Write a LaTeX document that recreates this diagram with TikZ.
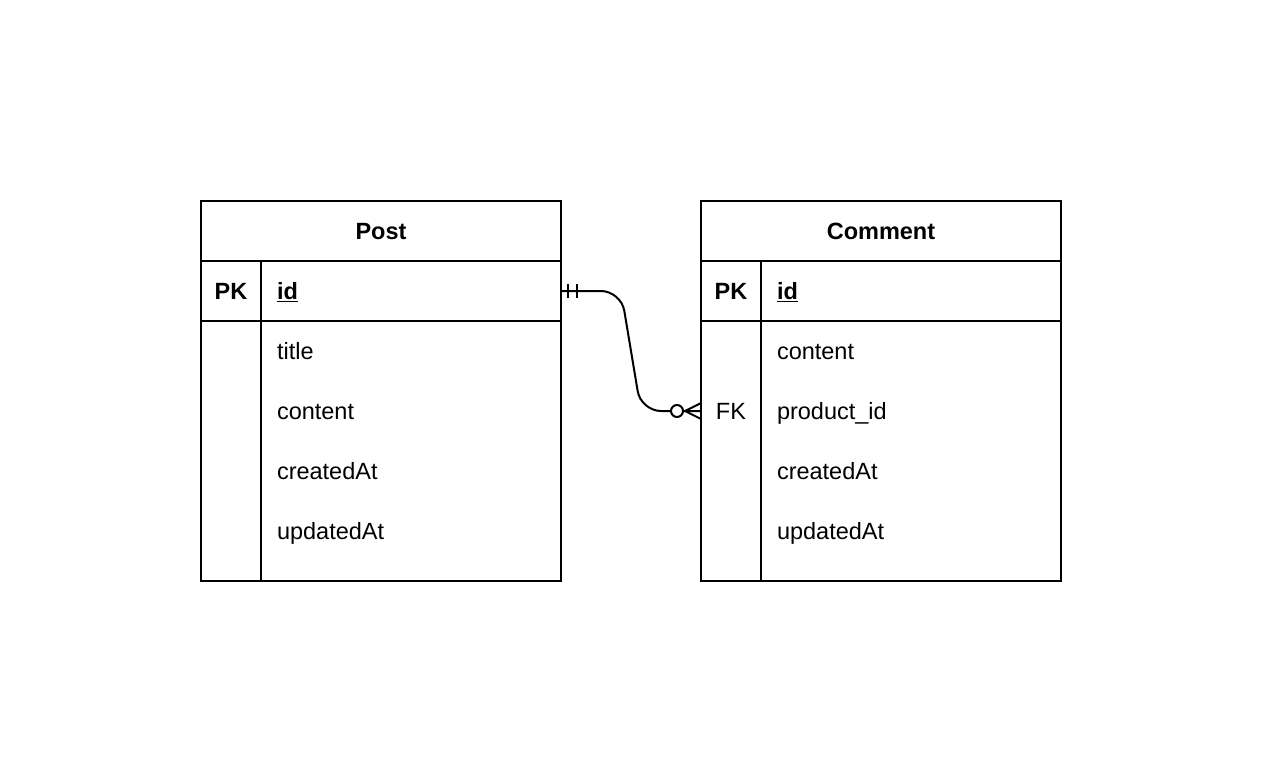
\documentclass[tikz,border=0pt]{standalone}
\usepackage{fontspec}
\setmainfont{Liberation Sans}
\begin{document}
\begin{tikzpicture}[x=1pt,y=-1pt,line width=2pt,
  every node/.style={font=\fontsize{23.5}{28}\selectfont, inner sep=0pt},
  hdr/.style={font=\fontsize{23.5}{28}\selectfont\bfseries},
  fld/.style={anchor=base west},
  key/.style={anchor=base},
  tbl/.style={draw=black, line width=2pt}]
\useasboundingbox (0,0) rectangle (1262,782);
% Post table
\draw[tbl] (201,201) rectangle (561,581);
\draw[tbl] (201,261) -- (561,261);
\draw[tbl] (201,321) -- (561,321);
\draw[tbl] (261,261) -- (261,581);
\node[hdr,key] (posttitle) at (381,239.5) {Post};
\node[hdr,key] (postpk) at (231,299.5) {PK};
\node[hdr,fld] (postid) at (276,299.5) {\underline{id}};
\node[fld] (posttitlef) at (276,359.5) {title};
\node[fld] (postcontent) at (276,419.5) {content};
\node[fld] (postcreated) at (276,479.5) {createdAt};
\node[fld] (postupdated) at (276,539.5) {updatedAt};
% Comment table
\draw[tbl] (701,201) rectangle (1061,581);
\draw[tbl] (701,261) -- (1061,261);
\draw[tbl] (701,321) -- (1061,321);
\draw[tbl] (761,261) -- (761,581);
\node[hdr,key] (ctitle) at (881,239.5) {Comment};
\node[hdr,key] (cpk) at (731,299.5) {PK};
\node[hdr,fld] (cid) at (776,299.5) {\underline{id}};
\node[fld] (ccontent) at (776,359.5) {content};
\node[key] (cfk) at (731,419.5) {FK};
\node[fld] (cprod) at (776,419.5) {product\_id};
\node[fld] (ccreated) at (776,479.5) {createdAt};
\node[fld] (cupdated) at (776,539.5) {updatedAt};
% connector
\coordinate (a) at (561,291);
\coordinate (b) at (701,411);
\draw[rounded corners=20pt] (a) -- ++(60,0) -- ++(20,120) -- (b);
\draw ([xshift=7pt]a) ++(0,-7) -- ++(0,14);
\draw ([xshift=16pt]a) ++(0,-7) -- ++(0,14);
\draw[fill=white] ([xshift=-24pt]b) circle (6pt);
\draw ([xshift=-16pt]b) -- ++(16,-8);
\draw ([xshift=-16pt]b) -- ++(16,8);
\end{tikzpicture}
\end{document}
